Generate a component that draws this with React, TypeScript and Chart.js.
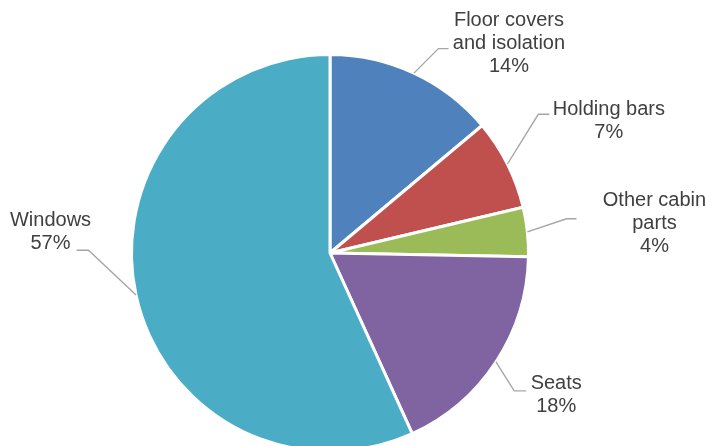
import React, { useEffect, useRef } from "react";
import { Chart, registerables } from "chart.js";

Chart.register(...registerables);

const categories: string[][] = [
  ["Floor covers", "and isolation"],
  ["Holding bars"],
  ["Other cabin", "parts"],
  ["Seats"],
  ["Windows"],
];
const shares: number[] = [13.9, 7.4, 4.0, 17.9, 56.8];
const percentLabels: string[] = ["14%", "7%", "4%", "18%", "57%"];
const sliceColors: string[] = ["#4F81BD", "#C0504D", "#9BBB59", "#8064A2", "#4BACC6"];

// label layout: elbow offset from arc anchor, horizontal leader length, text offset from elbow
const labelLayout = [
  { ex: 24.5, ey: -24.5, hx: 10, tx: 70.5, ty: -28 },
  { ex: 30.9, ey: -49.7, hx: 11, tx: 70.5, ty: -5 },
  { ex: 39.1, ey: -13.1, hx: 10, tx: 88, ty: -18 },
  { ex: 18.3, ey: 28.9, hx: 12, tx: 42, ty: -7 },
  { ex: -47.5, ey: -44.8, hx: -12, tx: -38, ty: -30 },
];

const leaderLabels = {
  id: "leaderLabels",
  afterDatasetsDraw(chart: any) {
    const ctx = chart.ctx;
    const meta = chart.getDatasetMeta(0);
    ctx.save();
    meta.data.forEach((arc: any, i: number) => {
      const { x, y, startAngle, endAngle, outerRadius } = arc.getProps(
        ["x", "y", "startAngle", "endAngle", "outerRadius"],
        true
      );
      const mid = (startAngle + endAngle) / 2;
      const ax = x + Math.cos(mid) * outerRadius;
      const ay = y + Math.sin(mid) * outerRadius;
      const L = labelLayout[i];
      const bx = ax + L.ex;
      const by = ay + L.ey;
      ctx.strokeStyle = "#A6A6A6";
      ctx.lineWidth = 1.4;
      ctx.beginPath();
      ctx.moveTo(ax, ay);
      ctx.lineTo(bx, by);
      ctx.lineTo(bx + L.hx, by);
      ctx.stroke();
      const lines = [...categories[i], percentLabels[i]];
      ctx.fillStyle = "#404040";
      ctx.font = "20px 'Liberation Sans', Arial, sans-serif";
      ctx.textAlign = "center";
      ctx.textBaseline = "middle";
      lines.forEach((t, k) => {
        ctx.fillText(t, bx + L.tx, by + L.ty + k * 23);
      });
    });
    ctx.restore();
  },
};

export default function App() {
  const ref = useRef<HTMLCanvasElement | null>(null);
  useEffect(() => {
    if (!ref.current) return;
    const chart = new Chart(ref.current, {
      type: "pie",
      data: {
        labels: categories.map((c) => c.join(" ")),
        datasets: [
          {
            data: shares,
            backgroundColor: sliceColors,
            borderColor: "#FFFFFF",
            borderWidth: 3,
          },
        ],
      },
      options: {
        responsive: false,
        animation: false,
        devicePixelRatio: 1,
        layout: { padding: { left: 130, right: 176, top: 53, bottom: 17 } },
        plugins: {
          legend: { display: false },
          tooltip: { enabled: false },
        },
      },
      plugins: [leaderLabels],
    });
    return () => chart.destroy();
  }, []);
  return (
    <div
      style={{
        position: "fixed",
        left: 0,
        top: 0,
        width: 706,
        height: 446,
        overflow: "hidden",
        background: "#fff",
      }}
    >
      <canvas ref={ref} width={706} height={470} style={{ display: "block" }} />
    </div>
  );
}
